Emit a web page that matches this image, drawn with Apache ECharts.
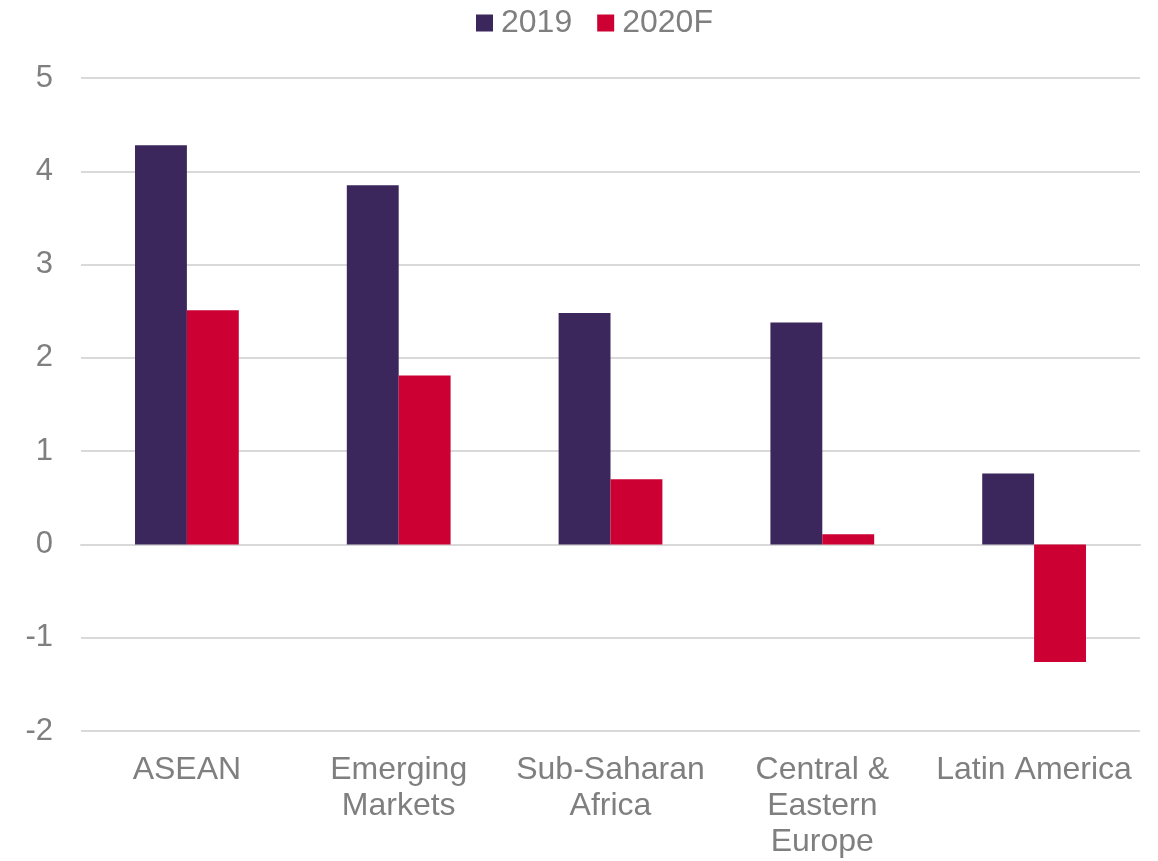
<!DOCTYPE html>
<html><head><meta charset="utf-8">
<script src="https://cdn.jsdelivr.net/npm/echarts@6/dist/echarts.min.js"></script>
<style>html,body{margin:0;padding:0;background:#fff}#c{width:1158px;height:861px}</style>
</head><body><div id="c"></div>
<script>
const categories = ['ASEAN', 'Emerging\nMarkets', 'Sub-Saharan\nAfrica', 'Central &\nEastern\nEurope', 'Latin America'];
const values2019 = [4.28, 3.85, 2.48, 2.38, 0.76];
const values2020F = [2.51, 1.81, 0.70, 0.11, -1.26];
const seriesNames = ['2019', '2020F'];
const chart = echarts.init(document.getElementById('c'));
const textColor = '#7f7f7f';
chart.setOption({
  animation: false,
  textStyle: {fontFamily: 'Liberation Sans, Arial, sans-serif'},
  legend: {
    top: 2, left: 471, itemWidth: 17, itemHeight: 17, itemGap: 25,
    icon: 'rect',
    textStyle: {color: textColor, fontSize: 32, fontFamily: 'Liberation Sans', padding: [0, 0, 0, 3]},
    data: seriesNames
  },
  grid: {left: 81, right: 18, top: 78, bottom: 130, containLabel: false, outerBoundsMode: 'none'},
  xAxis: {
    type: 'category', data: categories,
    axisLine: {show: true, onZero: true, lineStyle: {color: '#d9d9d9', width: 2}},
    axisTick: {show: false},
    axisLabel: {color: textColor, fontSize: 32, lineHeight: 36, margin: 21, interval: 0, fontFamily: 'Liberation Sans', verticalAlign: 'top'}
  },
  yAxis: {
    type: 'value', min: -2, max: 5, interval: 1,
    axisLine: {show: false}, axisTick: {show: false},
    splitLine: {lineStyle: {color: '#d9d9d9', width: 2}},
    axisLabel: {color: textColor, fontSize: 31, margin: 28, fontFamily: 'Liberation Sans'}
  },
  series: [
    {name: seriesNames[0], type: 'bar', data: values2019, barGap: '0%', barCategoryGap: '51%',
     itemStyle: {color: '#3c275c'}},
    {name: seriesNames[1], type: 'bar', data: values2020F,
     itemStyle: {color: '#cc0033'}}
  ]
});
</script></body></html>
